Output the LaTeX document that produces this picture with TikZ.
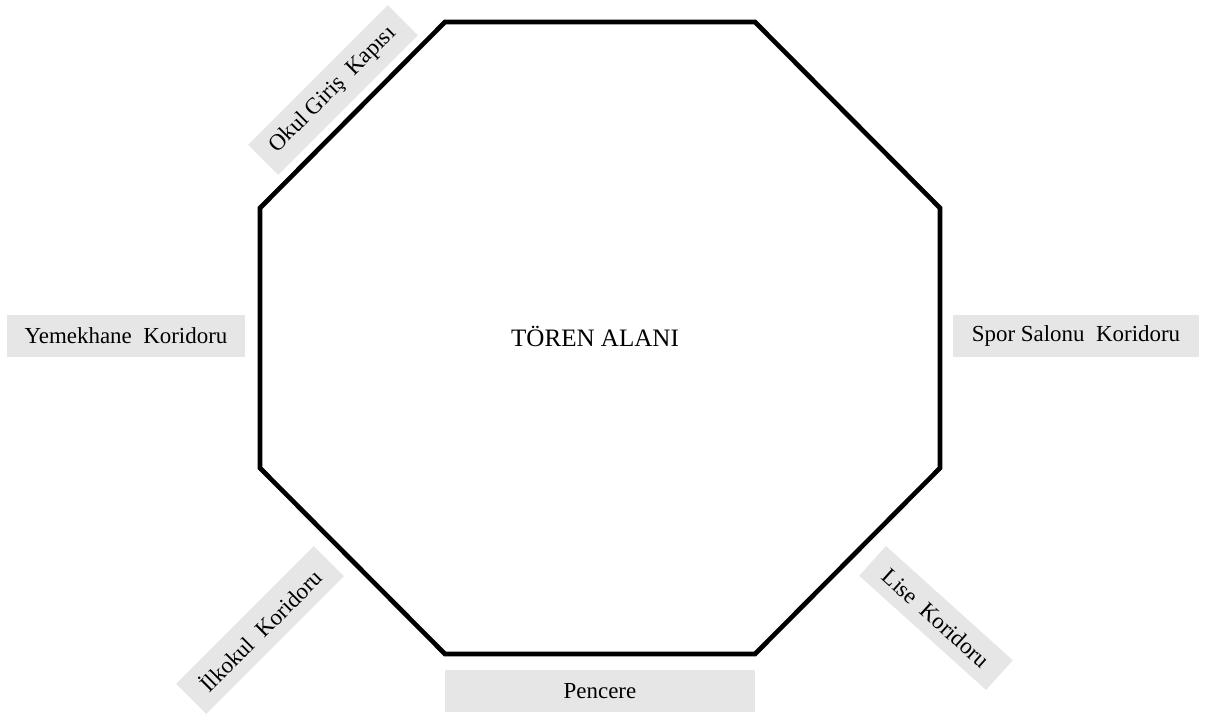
\documentclass[tikz,border=0pt]{standalone}
\usepackage{fontspec}
\setmainfont{Liberation Serif}
\usetikzlibrary{positioning}
\definecolor{lblgray}{RGB}{230,230,230}

\begin{document}
\begin{tikzpicture}[x=0.75pt,y=-0.75pt,font=\fontsize{17.2}{19}\selectfont,
      lb/.style={fill=lblgray,inner sep=0pt,minimum height=32pt,align=center}]
      \useasboundingbox (0,0) rectangle (1216,720);
      \draw[line width=3.5pt,line join=miter] (445,22) -- (755,22) -- (940,208) -- (940,468)
        -- (755,654) -- (445,654) -- (260,468) -- (260,208) -- cycle;
      \node[font=\fontsize{18.8}{21}\selectfont] (alan) at (595,336) {TÖREN ALANI};
      \node[lb,minimum width=148pt,rotate=45] (okul) at (333,90) {Okul Giriş\ \ Kapısı};
      \node[lb,minimum width=178.5pt] (yemek) at (126,336) {Yemekhane\ \ Koridoru};
      \node[lb,minimum width=184pt] (spor) at (1076,336) {Spor Salonu\ \ Koridoru};
      \node[lb,minimum width=146pt,rotate=45] (ilk) at (260,630) {İlkokul\ \ Koridoru};
      \node[lb,minimum width=128pt,minimum height=30pt,rotate=-42] (lise) at (936,618) {Lise\ \ Koridoru};
      \node[lb,minimum width=232pt] (pen) at (600,691) {Pencere};
    \end{tikzpicture}
\end{document}
